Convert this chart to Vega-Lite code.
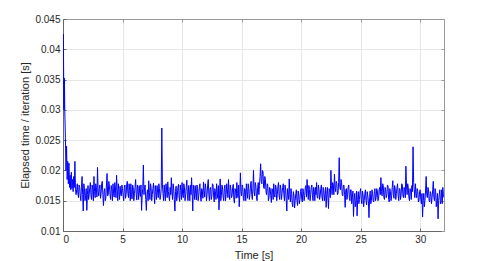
{
"$schema": "https://vega.github.io/schema/vega-lite/v6.json",
"width": 381, "height": 212,
"autosize": {"type": "none"},
"padding": {"left": 63, "top": 19, "right": 47, "bottom": 30},
"background": "white",
"config": {
  "view": {"stroke": null},
  "font": "Liberation Sans",
  "axis": {
    "labelFont": "Liberation Sans", "labelFontSize": 10, "labelColor": "#262626",
    "titleFont": "Liberation Sans", "titleFontSize": 11, "titleColor": "#262626", "titleFontWeight": "normal",
    "gridColor": "#e6e6e6", "gridWidth": 1,
    "domainColor": "#666666", "domainWidth": 1,
    "tickColor": "#666666", "tickSize": -3, "tickWidth": 1
  }
},
"data": {"values": [
{"t":0,"v":0.0300},{"t":0.03,"v":0.0425},{"t":0.06,"v":0.0350},{"t":0.09,"v":0.0300},{"t":0.12,"v":0.0352},{"t":0.15,"v":0.0298},
{"t":0.2,"v":0.0255},{"t":0.25,"v":0.0200},{"t":0.3,"v":0.0240},{"t":0.35,"v":0.0185},{"t":0.4,"v":0.0215},{"t":0.45,"v":0.0178},
{"t":0.5,"v":0.0212},{"t":0.55,"v":0.0172},{"t":0.6,"v":0.0192},{"t":0.65,"v":0.0168},{"t":0.7,"v":0.0197},{"t":0.75,"v":0.0170},
{"t":0.8,"v":0.0185},{"t":0.85,"v":0.0165},{"t":0.9,"v":0.0190},{"t":0.95,"v":0.0172},{"t":1.0,"v":0.0215},{"t":1.05,"v":0.0168},
{"t":1.1,"v":0.0160},{"t":1.2,"v":0.0178},{"t":1.3,"v":0.0155},{"t":1.4,"v":0.0172},{"t":1.5,"v":0.0150},{"t":1.6,"v":0.0190},{"t":1.7,"v":0.0133},{"t":1.8,"v":0.0170},{"t":1.9,"v":0.0158},
{"t":2.0,"v":0.0134},{"t":2.1,"v":0.0175},{"t":2.2,"v":0.0160},{"t":2.3,"v":0.0180},{"t":2.4,"v":0.0152},{"t":2.5,"v":0.0168},{"t":2.6,"v":0.0190},{"t":2.7,"v":0.0155},{"t":2.8,"v":0.0172},{"t":2.9,"v":0.0205},
{"t":3.0,"v":0.0158},{"t":3.1,"v":0.0176},{"t":3.2,"v":0.0162},{"t":3.3,"v":0.0182},{"t":3.4,"v":0.0142},{"t":3.5,"v":0.0170},{"t":3.6,"v":0.0155},{"t":3.7,"v":0.0195},{"t":3.8,"v":0.0160},{"t":3.9,"v":0.0174},
{"t":4.0,"v":0.0152},{"t":4.1,"v":0.0168},{"t":4.2,"v":0.0178},{"t":4.3,"v":0.0156},{"t":4.4,"v":0.0171},{"t":4.5,"v":0.0192},{"t":4.6,"v":0.0150},{"t":4.7,"v":0.0166},{"t":4.8,"v":0.0174},{"t":4.9,"v":0.0158},
{"t":5.0,"v":0.0170},{"t":5.1,"v":0.0150},{"t":5.2,"v":0.0176},{"t":5.3,"v":0.0160},{"t":5.4,"v":0.0182},{"t":5.5,"v":0.0155},{"t":5.6,"v":0.0167},{"t":5.7,"v":0.0178},{"t":5.8,"v":0.0153},{"t":5.9,"v":0.0171},
{"t":6.0,"v":0.0162},{"t":6.1,"v":0.0185},{"t":6.2,"v":0.0151},{"t":6.3,"v":0.0168},{"t":6.4,"v":0.0175},{"t":6.5,"v":0.0157},{"t":6.6,"v":0.0134},{"t":6.7,"v":0.0170},{"t":6.75,"v":0.0209},{"t":6.8,"v":0.0160},{"t":6.9,"v":0.0176},
{"t":7.0,"v":0.0134},{"t":7.1,"v":0.0168},{"t":7.2,"v":0.0183},{"t":7.3,"v":0.0152},{"t":7.4,"v":0.0172},{"t":7.5,"v":0.0160},{"t":7.6,"v":0.0179},{"t":7.7,"v":0.0145},{"t":7.8,"v":0.0166},{"t":7.9,"v":0.0175},
{"t":8.0,"v":0.0155},{"t":8.1,"v":0.0170},{"t":8.2,"v":0.0158},{"t":8.3,"v":0.0270},{"t":8.4,"v":0.0162},{"t":8.5,"v":0.0176},{"t":8.6,"v":0.0150},{"t":8.7,"v":0.0168},{"t":8.8,"v":0.0181},{"t":8.9,"v":0.0156},
{"t":9.0,"v":0.0172},{"t":9.1,"v":0.0188},{"t":9.2,"v":0.0152},{"t":9.3,"v":0.0169},{"t":9.4,"v":0.0133},{"t":9.5,"v":0.0174},{"t":9.6,"v":0.0158},{"t":9.7,"v":0.0177},{"t":9.8,"v":0.0149},{"t":9.9,"v":0.0167},
{"t":10.0,"v":0.0180},{"t":10.1,"v":0.0155},{"t":10.2,"v":0.0171},{"t":10.3,"v":0.0160},{"t":10.4,"v":0.0184},{"t":10.5,"v":0.0150},{"t":10.6,"v":0.0166},{"t":10.7,"v":0.0176},{"t":10.8,"v":0.0188},{"t":10.9,"v":0.0133},
{"t":11.0,"v":0.0168},{"t":11.1,"v":0.0175},{"t":11.2,"v":0.0151},{"t":11.3,"v":0.0170},{"t":11.4,"v":0.0158},{"t":11.5,"v":0.0178},{"t":11.6,"v":0.0149},{"t":11.7,"v":0.0167},{"t":11.8,"v":0.0181},{"t":11.9,"v":0.0156},
{"t":12.0,"v":0.0170},{"t":12.1,"v":0.0160},{"t":12.2,"v":0.0185},{"t":12.3,"v":0.0150},{"t":12.4,"v":0.0172},{"t":12.5,"v":0.0157},{"t":12.6,"v":0.0176},{"t":12.7,"v":0.0148},{"t":12.8,"v":0.0165},{"t":12.9,"v":0.0178},
{"t":13.0,"v":0.0154},{"t":13.1,"v":0.0135},{"t":13.2,"v":0.0186},{"t":13.3,"v":0.0158},{"t":13.4,"v":0.0171},{"t":13.5,"v":0.0150},{"t":13.6,"v":0.0176},{"t":13.7,"v":0.0160},{"t":13.8,"v":0.0168},{"t":13.9,"v":0.0185},
{"t":14.0,"v":0.0152},{"t":14.1,"v":0.0170},{"t":14.2,"v":0.0158},{"t":14.3,"v":0.0177},{"t":14.4,"v":0.0146},{"t":14.5,"v":0.0166},{"t":14.6,"v":0.0180},{"t":14.7,"v":0.0155},{"t":14.8,"v":0.0140},{"t":14.9,"v":0.0196},
{"t":15.0,"v":0.0158},{"t":15.1,"v":0.0172},{"t":15.2,"v":0.0150},{"t":15.3,"v":0.0168},{"t":15.4,"v":0.0178},{"t":15.5,"v":0.0154},{"t":15.6,"v":0.0170},{"t":15.7,"v":0.0160},{"t":15.8,"v":0.0182},{"t":15.9,"v":0.0152},
{"t":16.0,"v":0.0200},{"t":16.1,"v":0.0158},{"t":16.2,"v":0.0174},{"t":16.3,"v":0.0150},{"t":16.4,"v":0.0180},{"t":16.5,"v":0.0175},{"t":16.6,"v":0.0211},{"t":16.7,"v":0.0178},{"t":16.8,"v":0.0198},{"t":16.9,"v":0.0170},
{"t":17.0,"v":0.0185},{"t":17.1,"v":0.0160},{"t":17.2,"v":0.0176},{"t":17.3,"v":0.0155},{"t":17.4,"v":0.0170},{"t":17.5,"v":0.0147},{"t":17.6,"v":0.0168},{"t":17.7,"v":0.0178},{"t":17.8,"v":0.0156},{"t":17.9,"v":0.0172},
{"t":18.0,"v":0.0160},{"t":18.1,"v":0.0180},{"t":18.2,"v":0.0152},{"t":18.3,"v":0.0170},{"t":18.4,"v":0.0163},{"t":18.5,"v":0.0178},{"t":18.6,"v":0.0150},{"t":18.7,"v":0.0168},{"t":18.8,"v":0.0133},{"t":18.9,"v":0.0160},
{"t":19.0,"v":0.0186},{"t":19.1,"v":0.0148},{"t":19.2,"v":0.0162},{"t":19.3,"v":0.0140},{"t":19.4,"v":0.0158},{"t":19.5,"v":0.0150},{"t":19.6,"v":0.0168},{"t":19.7,"v":0.0142},{"t":19.8,"v":0.0160},{"t":19.9,"v":0.0152},
{"t":20.0,"v":0.0170},{"t":20.1,"v":0.0148},{"t":20.2,"v":0.0165},{"t":20.3,"v":0.0158},{"t":20.4,"v":0.0175},{"t":20.5,"v":0.0185},{"t":20.6,"v":0.0152},{"t":20.7,"v":0.0168},{"t":20.8,"v":0.0160},{"t":20.9,"v":0.0176},
{"t":21.0,"v":0.0150},{"t":21.1,"v":0.0166},{"t":21.2,"v":0.0172},{"t":21.3,"v":0.0180},{"t":21.4,"v":0.0154},{"t":21.5,"v":0.0169},{"t":21.6,"v":0.0158},{"t":21.7,"v":0.0176},{"t":21.8,"v":0.0150},{"t":21.9,"v":0.0167},
{"t":22.0,"v":0.0160},{"t":22.1,"v":0.0139},{"t":22.2,"v":0.0172},{"t":22.3,"v":0.0137},{"t":22.4,"v":0.0168},{"t":22.5,"v":0.0200},{"t":22.6,"v":0.0160},{"t":22.7,"v":0.0176},{"t":22.8,"v":0.0194},{"t":22.9,"v":0.0165},
{"t":23.0,"v":0.0178},{"t":23.1,"v":0.0162},{"t":23.2,"v":0.0221},{"t":23.3,"v":0.0168},{"t":23.4,"v":0.0180},{"t":23.5,"v":0.0158},{"t":23.6,"v":0.0175},{"t":23.7,"v":0.0139},{"t":23.8,"v":0.0170},{"t":23.9,"v":0.0160},
{"t":24.0,"v":0.0176},{"t":24.1,"v":0.0150},{"t":24.2,"v":0.0168},{"t":24.3,"v":0.0155},{"t":24.4,"v":0.0124},{"t":24.5,"v":0.0162},{"t":24.6,"v":0.0148},{"t":24.7,"v":0.0125},{"t":24.8,"v":0.0165},{"t":24.9,"v":0.0152},
{"t":25.0,"v":0.0170},{"t":25.1,"v":0.0145},{"t":25.2,"v":0.0160},{"t":25.3,"v":0.0150},{"t":25.4,"v":0.0168},{"t":25.5,"v":0.0143},{"t":25.6,"v":0.0158},{"t":25.7,"v":0.0122},{"t":25.8,"v":0.0166},{"t":25.9,"v":0.0150},
{"t":26.0,"v":0.0162},{"t":26.1,"v":0.0148},{"t":26.2,"v":0.0170},{"t":26.3,"v":0.0155},{"t":26.4,"v":0.0166},{"t":26.5,"v":0.0152},{"t":26.6,"v":0.0172},{"t":26.7,"v":0.0188},{"t":26.8,"v":0.0158},{"t":26.9,"v":0.0175},
{"t":27.0,"v":0.0152},{"t":27.1,"v":0.0168},{"t":27.2,"v":0.0160},{"t":27.3,"v":0.0174},{"t":27.4,"v":0.0148},{"t":27.5,"v":0.0165},{"t":27.6,"v":0.0158},{"t":27.7,"v":0.0183},{"t":27.8,"v":0.0154},{"t":27.9,"v":0.0170},
{"t":28.0,"v":0.0162},{"t":28.1,"v":0.0178},{"t":28.2,"v":0.0150},{"t":28.3,"v":0.0170},{"t":28.4,"v":0.0160},{"t":28.5,"v":0.0176},{"t":28.6,"v":0.0155},{"t":28.7,"v":0.0168},{"t":28.8,"v":0.0207},{"t":28.9,"v":0.0160},
{"t":29.0,"v":0.0172},{"t":29.1,"v":0.0150},{"t":29.2,"v":0.0166},{"t":29.3,"v":0.0175},{"t":29.4,"v":0.0239},{"t":29.5,"v":0.0168},{"t":29.6,"v":0.0178},{"t":29.7,"v":0.0155},{"t":29.8,"v":0.0165},{"t":29.9,"v":0.0150},
{"t":30.0,"v":0.0168},{"t":30.1,"v":0.0145},{"t":30.2,"v":0.0123},{"t":30.3,"v":0.0162},{"t":30.4,"v":0.0150},{"t":30.5,"v":0.0190},{"t":30.6,"v":0.0155},{"t":30.7,"v":0.0168},{"t":30.8,"v":0.0148},{"t":30.9,"v":0.0162},
{"t":31.0,"v":0.0155},{"t":31.1,"v":0.0182},{"t":31.2,"v":0.0150},{"t":31.3,"v":0.0165},{"t":31.4,"v":0.0148},{"t":31.5,"v":0.0120},{"t":31.6,"v":0.0160},{"t":31.7,"v":0.0145},{"t":31.8,"v":0.0168},{"t":31.9,"v":0.0172},
{"t":32.0,"v":0.0155},
{"t":1.15,"v":0.0168},{"t":1.25,"v":0.0162},{"t":1.35,"v":0.0176},{"t":1.45,"v":0.0158},{"t":1.55,"v":0.0172},{"t":1.65,"v":0.0160},{"t":1.75,"v":0.0178},{"t":1.85,"v":0.0150},{"t":1.95,"v":0.0170},
{"t":2.05,"v":0.0160},{"t":2.15,"v":0.0152},{"t":2.25,"v":0.0172},{"t":2.35,"v":0.0158},{"t":2.45,"v":0.0176},{"t":2.55,"v":0.0150},{"t":2.65,"v":0.0165},{"t":2.75,"v":0.0178},{"t":2.85,"v":0.0156},{"t":2.95,"v":0.0166},
{"t":3.05,"v":0.0170},{"t":3.15,"v":0.0154},{"t":3.25,"v":0.0178},{"t":3.35,"v":0.0160},{"t":3.45,"v":0.0165},{"t":3.55,"v":0.0150},{"t":3.65,"v":0.0176},{"t":3.75,"v":0.0158},{"t":3.85,"v":0.0182},{"t":3.95,"v":0.0160},
{"t":4.05,"v":0.0175},{"t":4.15,"v":0.0150},{"t":4.25,"v":0.0162},{"t":4.35,"v":0.0180},{"t":4.45,"v":0.0155},{"t":4.55,"v":0.0168},{"t":4.65,"v":0.0178},{"t":4.75,"v":0.0152},{"t":4.85,"v":0.0160},{"t":4.95,"v":0.0176},
{"t":5.05,"v":0.0158},{"t":5.15,"v":0.0172},{"t":5.25,"v":0.0154},{"t":5.35,"v":0.0176},{"t":5.45,"v":0.0162},{"t":5.55,"v":0.0178},{"t":5.65,"v":0.0150},{"t":5.75,"v":0.0160},{"t":5.85,"v":0.0176},{"t":5.95,"v":0.0150},
{"t":6.05,"v":0.0172},{"t":6.15,"v":0.0160},{"t":6.25,"v":0.0176},{"t":6.35,"v":0.0152},{"t":6.45,"v":0.0162},{"t":6.55,"v":0.0176},{"t":6.65,"v":0.0160},{"t":6.85,"v":0.0172},{"t":6.95,"v":0.0152},
{"t":7.05,"v":0.0160},{"t":7.15,"v":0.0150},{"t":7.25,"v":0.0164},{"t":7.35,"v":0.0178},{"t":7.45,"v":0.0150},{"t":7.55,"v":0.0170},{"t":7.65,"v":0.0160},{"t":7.75,"v":0.0175},{"t":7.85,"v":0.0152},{"t":7.95,"v":0.0164},
{"t":8.05,"v":0.0178},{"t":8.15,"v":0.0152},{"t":8.25,"v":0.0170},{"t":8.35,"v":0.0176},{"t":8.45,"v":0.0150},{"t":8.55,"v":0.0162},{"t":8.65,"v":0.0178},{"t":8.75,"v":0.0155},{"t":8.85,"v":0.0165},{"t":8.95,"v":0.0150},
{"t":9.05,"v":0.0160},{"t":9.15,"v":0.0166},{"t":9.25,"v":0.0178},{"t":9.35,"v":0.0152},{"t":9.45,"v":0.0165},{"t":9.55,"v":0.0150},{"t":9.65,"v":0.0172},{"t":9.75,"v":0.0156},{"t":9.85,"v":0.0176},{"t":9.95,"v":0.0152},
{"t":10.05,"v":0.0160},{"t":10.15,"v":0.0178},{"t":10.25,"v":0.0150},{"t":10.35,"v":0.0172},{"t":10.45,"v":0.0158},{"t":10.55,"v":0.0175},{"t":10.65,"v":0.0150},{"t":10.75,"v":0.0160},{"t":10.85,"v":0.0162},{"t":10.95,"v":0.0176},
{"t":11.05,"v":0.0152},{"t":11.15,"v":0.0162},{"t":11.25,"v":0.0176},{"t":11.35,"v":0.0150},{"t":11.45,"v":0.0172},{"t":11.55,"v":0.0156},{"t":11.65,"v":0.0170},{"t":11.75,"v":0.0154},{"t":11.85,"v":0.0166},{"t":11.95,"v":0.0178},
{"t":12.05,"v":0.0150},{"t":12.15,"v":0.0176},{"t":12.25,"v":0.0160},{"t":12.35,"v":0.0170},{"t":12.45,"v":0.0152},{"t":12.55,"v":0.0178},{"t":12.65,"v":0.0158},{"t":12.75,"v":0.0170},{"t":12.85,"v":0.0152},{"t":12.95,"v":0.0164},
{"t":13.05,"v":0.0175},{"t":13.15,"v":0.0160},{"t":13.25,"v":0.0150},{"t":13.35,"v":0.0176},{"t":13.45,"v":0.0156},{"t":13.55,"v":0.0170},{"t":13.65,"v":0.0150},{"t":13.75,"v":0.0178},{"t":13.85,"v":0.0155},{"t":13.95,"v":0.0162},
{"t":14.05,"v":0.0176},{"t":14.15,"v":0.0155},{"t":14.25,"v":0.0172},{"t":14.35,"v":0.0152},{"t":14.45,"v":0.0170},{"t":14.55,"v":0.0154},{"t":14.65,"v":0.0162},{"t":14.75,"v":0.0176},{"t":14.85,"v":0.0160},{"t":14.95,"v":0.0165},
{"t":15.05,"v":0.0176},{"t":15.15,"v":0.0154},{"t":15.25,"v":0.0170},{"t":15.35,"v":0.0150},{"t":15.45,"v":0.0165},{"t":15.55,"v":0.0178},{"t":15.65,"v":0.0152},{"t":15.75,"v":0.0176},{"t":15.85,"v":0.0160},{"t":15.95,"v":0.0170},
{"t":16.05,"v":0.0165},{"t":16.15,"v":0.0180},{"t":16.25,"v":0.0156},{"t":16.35,"v":0.0172},{"t":16.45,"v":0.0160},{"t":16.55,"v":0.0190},{"t":16.65,"v":0.0182},{"t":16.75,"v":0.0200},{"t":16.85,"v":0.0172},{"t":16.95,"v":0.0190},
{"t":17.05,"v":0.0165},{"t":17.15,"v":0.0178},{"t":17.25,"v":0.0150},{"t":17.35,"v":0.0172},{"t":17.45,"v":0.0158},{"t":17.55,"v":0.0170},{"t":17.65,"v":0.0152},{"t":17.75,"v":0.0160},{"t":17.85,"v":0.0176},{"t":17.95,"v":0.0150},
{"t":18.05,"v":0.0174},{"t":18.15,"v":0.0158},{"t":18.25,"v":0.0176},{"t":18.35,"v":0.0152},{"t":18.45,"v":0.0172},{"t":18.55,"v":0.0160},{"t":18.65,"v":0.0176},{"t":18.75,"v":0.0150},{"t":18.85,"v":0.0170},{"t":18.95,"v":0.0152},
{"t":19.05,"v":0.0160},{"t":19.15,"v":0.0170},{"t":19.25,"v":0.0145},{"t":19.35,"v":0.0165},{"t":19.45,"v":0.0138},{"t":19.55,"v":0.0162},{"t":19.65,"v":0.0150},{"t":19.75,"v":0.0166},{"t":19.85,"v":0.0145},{"t":19.95,"v":0.0165},
{"t":20.05,"v":0.0152},{"t":20.15,"v":0.0170},{"t":20.25,"v":0.0150},{"t":20.35,"v":0.0172},{"t":20.45,"v":0.0156},{"t":20.55,"v":0.0168},{"t":20.65,"v":0.0175},{"t":20.75,"v":0.0150},{"t":20.85,"v":0.0172},{"t":20.95,"v":0.0158},
{"t":21.05,"v":0.0172},{"t":21.15,"v":0.0150},{"t":21.25,"v":0.0160},{"t":21.35,"v":0.0156},{"t":21.45,"v":0.0176},{"t":21.55,"v":0.0152},{"t":21.65,"v":0.0170},{"t":21.75,"v":0.0156},{"t":21.85,"v":0.0172},{"t":21.95,"v":0.0150},
{"t":22.05,"v":0.0172},{"t":22.15,"v":0.0160},{"t":22.25,"v":0.0156},{"t":22.35,"v":0.0170},{"t":22.45,"v":0.0155},{"t":22.55,"v":0.0175},{"t":22.65,"v":0.0180},{"t":22.75,"v":0.0160},{"t":22.85,"v":0.0172},{"t":22.95,"v":0.0182},
{"t":23.05,"v":0.0160},{"t":23.15,"v":0.0180},{"t":23.25,"v":0.0172},{"t":23.35,"v":0.0185},{"t":23.45,"v":0.0160},{"t":23.55,"v":0.0176},{"t":23.65,"v":0.0160},{"t":23.75,"v":0.0168},{"t":23.85,"v":0.0152},{"t":23.95,"v":0.0172},
{"t":24.05,"v":0.0155},{"t":24.15,"v":0.0168},{"t":24.25,"v":0.0145},{"t":24.35,"v":0.0166},{"t":24.45,"v":0.0150},{"t":24.55,"v":0.0140},{"t":24.65,"v":0.0166},{"t":24.75,"v":0.0152},{"t":24.85,"v":0.0145},{"t":24.95,"v":0.0165},
{"t":25.05,"v":0.0152},{"t":25.15,"v":0.0166},{"t":25.25,"v":0.0140},{"t":25.35,"v":0.0162},{"t":25.45,"v":0.0150},{"t":25.55,"v":0.0165},{"t":25.65,"v":0.0148},{"t":25.75,"v":0.0155},{"t":25.85,"v":0.0145},{"t":25.95,"v":0.0168},
{"t":26.05,"v":0.0150},{"t":26.15,"v":0.0165},{"t":26.25,"v":0.0150},{"t":26.35,"v":0.0170},{"t":26.45,"v":0.0150},{"t":26.55,"v":0.0168},{"t":26.65,"v":0.0160},{"t":26.75,"v":0.0165},{"t":26.85,"v":0.0178},{"t":26.95,"v":0.0155},
{"t":27.05,"v":0.0172},{"t":27.15,"v":0.0155},{"t":27.25,"v":0.0176},{"t":27.35,"v":0.0152},{"t":27.45,"v":0.0170},{"t":27.55,"v":0.0150},{"t":27.65,"v":0.0172},{"t":27.75,"v":0.0160},{"t":27.85,"v":0.0175},{"t":27.95,"v":0.0152},
{"t":28.05,"v":0.0172},{"t":28.15,"v":0.0158},{"t":28.25,"v":0.0170},{"t":28.35,"v":0.0152},{"t":28.45,"v":0.0178},{"t":28.55,"v":0.0158},{"t":28.65,"v":0.0172},{"t":28.75,"v":0.0155},{"t":28.85,"v":0.0176},{"t":28.95,"v":0.0178},
{"t":29.05,"v":0.0155},{"t":29.15,"v":0.0170},{"t":29.25,"v":0.0152},{"t":29.35,"v":0.0165},{"t":29.45,"v":0.0180},{"t":29.55,"v":0.0155},{"t":29.65,"v":0.0162},{"t":29.75,"v":0.0170},{"t":29.85,"v":0.0148},{"t":29.95,"v":0.0165},
{"t":30.05,"v":0.0152},{"t":30.15,"v":0.0162},{"t":30.25,"v":0.0150},{"t":30.35,"v":0.0140},{"t":30.45,"v":0.0166},{"t":30.55,"v":0.0160},{"t":30.65,"v":0.0172},{"t":30.75,"v":0.0150},{"t":30.85,"v":0.0165},{"t":30.95,"v":0.0145},
{"t":31.05,"v":0.0168},{"t":31.15,"v":0.0155},{"t":31.25,"v":0.0170},{"t":31.35,"v":0.0140},{"t":31.45,"v":0.0162},{"t":31.55,"v":0.0150},{"t":31.65,"v":0.0168},{"t":31.75,"v":0.0150},{"t":31.85,"v":0.0145},{"t":31.95,"v":0.0160}
]},
"layer": [
  {
    "mark": {"type": "line", "color": "#0000ff", "strokeWidth": 1, "clip": true},
    "encoding": {
      "x": {"field": "t", "type": "quantitative",
            "scale": {"domain": [0, 32], "nice": false},
            "axis": {"orient": "bottom", "values": [0,5,10,15,20,25,30], "title": "Time [s]", "labelPadding": 6, "titlePadding": 5, "grid": true}},
      "y": {"field": "v", "type": "quantitative",
            "scale": {"domain": [0.01, 0.045], "nice": false, "zero": false},
            "axis": {"orient": "left", "values": [0.01,0.015,0.02,0.025,0.03,0.035,0.04,0.045], "format": "~g", "title": "Elapsed time / iteration [s]", "labelPadding": 6, "titlePadding": 4, "grid": true}}
    }
  },
  {
    "mark": {"type": "point", "opacity": 0},
    "encoding": {
      "x": {"field": "t", "type": "quantitative",
            "scale": {"domain": [0, 32], "nice": false},
            "axis": {"orient": "top", "values": [0,5,10,15,20,25,30], "labels": false, "title": null, "grid": false, "domainColor": "#999999", "tickColor": "#999999"}},
      "y": {"field": "v", "type": "quantitative",
            "scale": {"domain": [0.01, 0.045], "nice": false, "zero": false},
            "axis": {"orient": "right", "values": [0.01,0.015,0.02,0.025,0.03,0.035,0.04,0.045], "labels": false, "title": null, "grid": false, "domainColor": "#999999", "tickColor": "#999999"}}
    }
  }
],
"resolve": {"axis": {"x": "independent", "y": "independent"}}
}
